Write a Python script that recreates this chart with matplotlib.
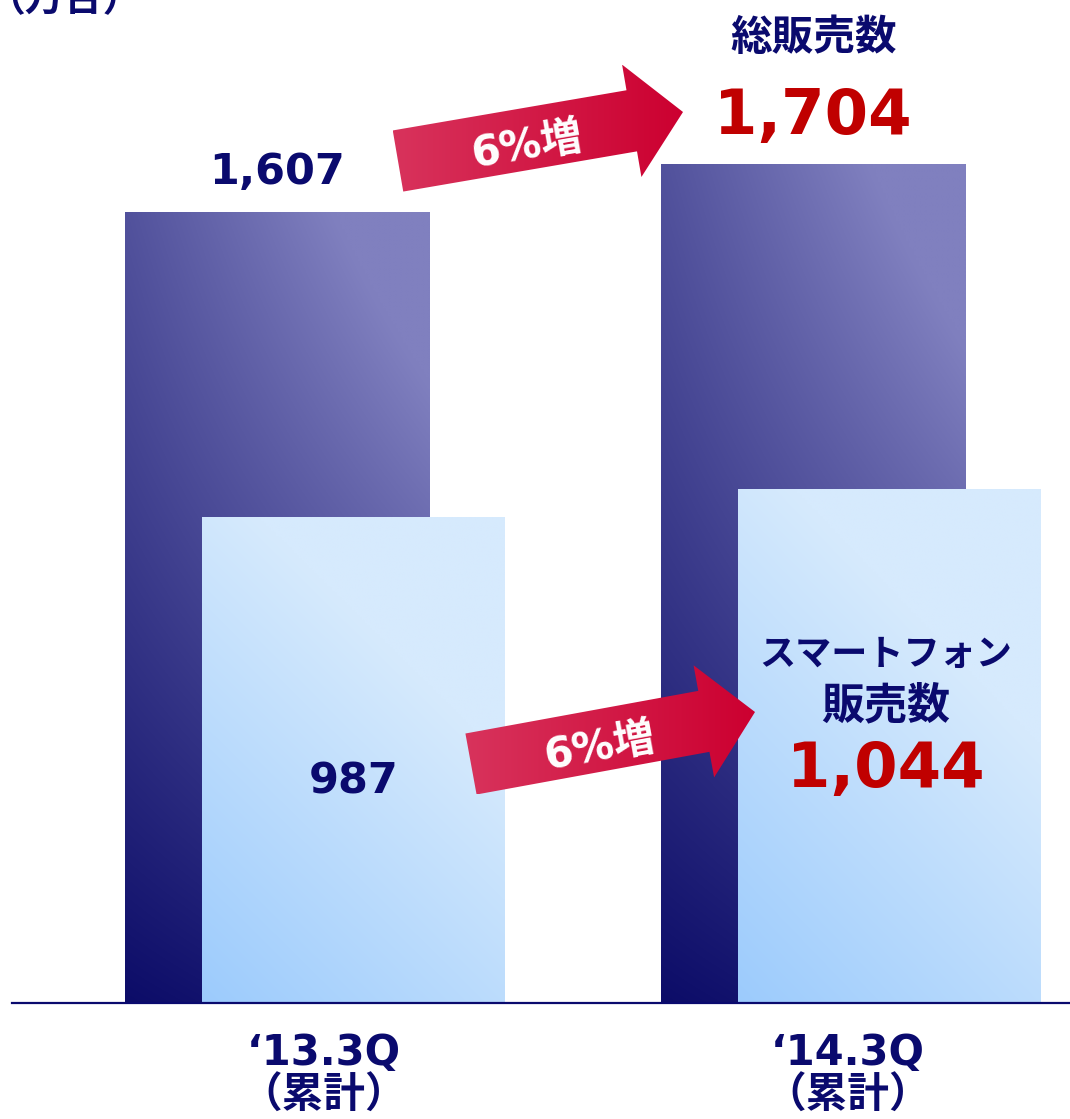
import numpy as np
import matplotlib
matplotlib.use('Agg')
import matplotlib.pyplot as plt
from matplotlib.patches import Polygon
from matplotlib.colors import to_rgb

plt.rcParams['font.family'] = ['DejaVu Sans', 'Noto Sans CJK JP']
plt.rcParams['font.weight'] = 'bold'

# data (万台)
periods = ['‘13.3Q\n（累計）', '‘14.3Q\n（累計）']
total_sales = [1607, 1704]
smartphone_sales = [987, 1044]
growth_labels = ['6%増', '6%増']

NAVY = '#0a0a6e'
RED = '#c00000'

W, H = 1070, 1119
fig = plt.figure(figsize=(W / 100, H / 100), dpi=100)
ax = fig.add_axes([12 / W, 1 - 1003 / H, 1 - 12 / W, 1003 / H])

x = np.arange(len(periods))
XLIM = (-0.565, 1.409)
YLIM = (0, 2038)
PX = YLIM[1] / 1003  # data units per pixel on the y axis


def gradient_fill(ax, bar, c0, c1, coef, z):
    x0, y0 = bar.get_x(), bar.get_y()
    w, h = bar.get_width(), bar.get_height()
    u = np.linspace(0, 1, 120)[None, :]
    v = np.linspace(0, 1, 300)[:, None]
    a, b, c, d = coef
    t = np.clip(a * u + b * v + c * u * v + d * v * v, 0, 1)
    c0, c1 = np.array(to_rgb(c0)), np.array(to_rgb(c1))
    img = c0 + (c1 - c0) * t[..., None]
    ax.imshow(img, extent=[x0, x0 + w, y0, y0 + h], origin='lower',
              aspect='auto', interpolation='bilinear', zorder=z)
    bar.set_facecolor('none')


dark = ax.bar(x - 0.07, total_sales, width=0.568, zorder=2, linewidth=0)
light = ax.bar(x + 0.072, smartphone_sales, width=0.565, zorder=3, linewidth=0)
for bar in dark:
    gradient_fill(ax, bar, '#0c0c68', '#8080bf', (0.18, 0.8, 0.4, -0.2), 1.5)
for bar in light:
    gradient_fill(ax, bar, '#9ccbfc', '#d6eafd', (0.55, 0.9, 0.0, 0.0), 2.5)

ax.set_xlim(*XLIM)
ax.set_ylim(*YLIM)
for s in ['top', 'left', 'right']:
    ax.spines[s].set_visible(False)
ax.spines['bottom'].set_color(NAVY)
ax.spines['bottom'].set_linewidth(1.6)
ax.spines['bottom'].set_zorder(4)
ax.set_yticks([])
ax.set_xticks(x + np.array([0.017, -0.006]), periods)
ax.tick_params(axis='x', length=0, pad=21, labelsize=30, labelcolor=NAVY)
for lbl in ax.get_xticklabels():
    lbl.set_linespacing(1.02)

# value labels
ax.text(dark[0].get_x() + dark[0].get_width() / 2, total_sales[0] + 40 * PX,
        f'{total_sales[0]:,}', ha='center', va='center', fontsize=31, color=NAVY, zorder=5)
ax.text(light[0].get_x() + light[0].get_width() / 2, smartphone_sales[0] * 0.455,
        f'{smartphone_sales[0]}', ha='center', va='center', fontsize=31, color=NAVY, zorder=5)

cx2 = dark[1].get_x() + dark[1].get_width() / 2
ax.text(cx2, total_sales[1] + 47 * PX, f'{total_sales[1]:,}',
        ha='center', va='center', fontsize=45, color=RED, zorder=5)
ax.text(cx2, total_sales[1] + 126 * PX, '総販売数', ha='center', va='center',
        fontsize=30, color=NAVY, zorder=5)

cx3 = light[1].get_x() + light[1].get_width() / 2 - 0.006
ax.text(cx3, smartphone_sales[1] - 281 * PX, f'{smartphone_sales[1]:,}', ha='center',
        va='center', fontsize=45, color=RED, zorder=5)
ax.text(cx3, smartphone_sales[1] - 166 * PX, 'スマートフォン', ha='center',
        va='center', fontsize=26, color=NAVY, zorder=5)
ax.text(cx3, smartphone_sales[1] - 217 * PX, '販売数', ha='center',
        va='center', fontsize=31, color=NAVY, zorder=5)

fig.text(-14 / W, 1 - 11 / H, '（万台）', ha='left', va='baseline', fontsize=28, color=NAVY)

# growth arrows drawn in pixel space
ov = fig.add_axes([0, 0, 1, 1], zorder=3)
ov.set_xlim(0, W)
ov.set_ylim(H, 0)
ov.axis('off')
ov.patch.set_visible(False)


def arrow(ov, tail, tip, label, half_shaft=31, half_head=57, head_len=52):
    tail, tip = np.array(tail, float), np.array(tip, float)
    d = tip - tail
    L = np.hypot(*d)
    d /= L
    n = np.array([d[1], -d[0]])
    base = tip - d * head_len
    pts = [tail + n * half_shaft, base + n * half_shaft, base + n * half_head, tip,
           base - n * half_head, base - n * half_shaft, tail - n * half_shaft]
    poly = Polygon(pts, closed=True, facecolor='none', edgecolor='none')
    ov.add_patch(poly)
    xs = [p[0] for p in pts]
    ys = [p[1] for p in pts]
    g = np.linspace(0, 1, 200)[None, :]
    c0, c1 = np.array(to_rgb('#d8335c')), np.array(to_rgb('#cc0030'))
    img = np.repeat(c0 + (c1 - c0) * g[..., None], 2, axis=0)
    im = ov.imshow(img, extent=[min(xs), max(xs), max(ys), min(ys)],
                   aspect='auto', interpolation='bilinear', zorder=1)
    im.set_clip_path(poly)
    ang = np.degrees(np.arctan2(-d[1], d[0]))
    mid = tail + d * 130
    ov.text(mid[0] + 1, mid[1] + 7, label, rotation=ang, rotation_mode='anchor',
            ha='center', va='center', color='white', fontsize=30, zorder=2)


arrow(ov, (398, 161), (683, 112), growth_labels[0])
arrow(ov, (471, 764), (755, 712), growth_labels[1])
ov.set_xlim(0, W)
ov.set_ylim(H, 0)

fig.savefig('out.png', dpi=100)
